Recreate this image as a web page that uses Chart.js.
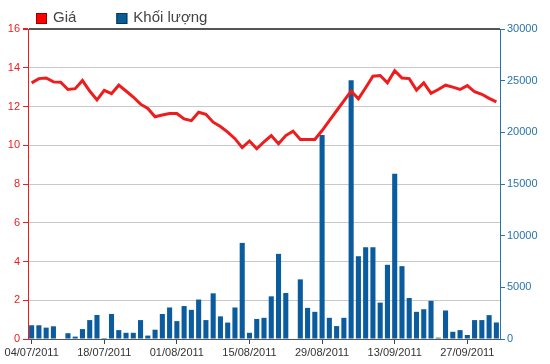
<!DOCTYPE html>
<html>
<head>
<meta charset="utf-8">
<script src="https://cdn.jsdelivr.net/npm/chart.js@4/dist/chart.umd.min.js"></script>
<style>
  html, body { margin: 0; padding: 0; background: #fff; }
  #wrap { width: 550px; height: 364px; }
</style>
</head>
<body>
<div id="wrap"><canvas id="chart"></canvas></div>
<script>
// trading days 04/07/2011 .. 03/10/2011 (02/09 holiday)
const dates = [
  '04/07/2011','05/07/2011','06/07/2011','07/07/2011','08/07/2011',
  '11/07/2011','12/07/2011','13/07/2011','14/07/2011','15/07/2011',
  '18/07/2011','19/07/2011','20/07/2011','21/07/2011','22/07/2011',
  '25/07/2011','26/07/2011','27/07/2011','28/07/2011','29/07/2011',
  '01/08/2011','02/08/2011','03/08/2011','04/08/2011','05/08/2011',
  '08/08/2011','09/08/2011','10/08/2011','11/08/2011','12/08/2011',
  '15/08/2011','16/08/2011','17/08/2011','18/08/2011','19/08/2011',
  '22/08/2011','23/08/2011','24/08/2011','25/08/2011','26/08/2011',
  '29/08/2011','30/08/2011','31/08/2011','01/09/2011','05/09/2011',
  '06/09/2011','07/09/2011','08/09/2011','09/09/2011','12/09/2011',
  '13/09/2011','14/09/2011','15/09/2011','16/09/2011','19/09/2011',
  '20/09/2011','21/09/2011','22/09/2011','23/09/2011','26/09/2011',
  '27/09/2011','28/09/2011','29/09/2011','30/09/2011','03/10/2011'
];

const price = [
  13.22, 13.44, 13.47, 13.27, 13.25, 12.88, 12.92, 13.34, 12.80, 12.34,
  12.83, 12.66, 13.10, 12.80, 12.49, 12.12, 11.90, 11.47, 11.56, 11.64,
  11.64, 11.36, 11.27, 11.70, 11.60, 11.19, 10.97, 10.68, 10.34, 9.88,
  10.22, 9.82, 10.17, 10.50, 10.08, 10.50, 10.73, 10.30, 10.30, 10.30,
  10.76, 11.27, 11.78, 12.29, 12.80, 12.40, 12.97, 13.56, 13.60, 13.22,
  13.85, 13.47, 13.44, 12.85, 13.22, 12.68, 12.88, 13.10, 13.00, 12.88,
  13.08, 12.76, 12.63, 12.42, 12.24
];

const volume = [
  1330, 1330, 1100, 1230, 0, 560, 230, 960, 1830, 2320,
  100, 2420, 860, 600, 600, 1830, 330, 900, 2420, 3050,
  1730, 3190, 2820, 3820, 1830, 4420, 2190, 1590, 3050, 9300,
  600, 1940, 2050, 4130, 8240, 4450, 0, 5770, 3010, 2630,
  19750, 2050, 1250, 2050, 25050, 8010, 8880, 8880, 3520, 7180,
  16000, 7050, 3970, 2630, 2880, 3690, 130, 2760, 700, 860,
  390, 1830, 1830, 2310, 1600
];

const priceTicks = { min: 0, max: 16, step: 2 };
const volumeTicks = { min: 0, max: 30000, step: 5000 };

const RED = '#ee1c1c';
const BLUE = '#0b5c9e';
const BLUE_TEXT = '#2a73a8';
const FONT = '"Liberation Sans", Arial, sans-serif';

// legend drawn above the plot, left aligned
const topLegend = {
  id: 'topLegend',
  afterDraw(chart) {
    const ctx = chart.ctx;
    ctx.save();
    ctx.font = '15px ' + FONT;
    ctx.textBaseline = 'middle';
    let x = 36;
    const y = 18;
    chart.data.datasets.forEach(ds => {
      ctx.fillStyle = ds.legendColor;
      ctx.fillRect(x, 13, 11, 11);
      ctx.strokeStyle = ds.legendBorder;
      ctx.lineWidth = 1;
      ctx.strokeRect(x + 0.5, 13.5, 10, 10);
      ctx.fillStyle = '#444';
      ctx.fillText(ds.label, x + 17, y);
      x += 17 + ctx.measureText(ds.label).width + 40;
    });
    ctx.restore();
  }
};

new Chart(document.getElementById('chart'), {
  type: 'bar',
  data: {
    labels: dates,
    datasets: [
      {
        type: 'line',
        label: 'Giá',
        data: price,
        yAxisID: 'y',
        borderColor: RED,
        borderWidth: 3,
        pointRadius: 0,
        tension: 0,
        order: 0,
        legendColor: '#ff0000',
        legendBorder: '#990000'
      },
      {
        type: 'bar',
        label: 'Khối lượng',
        data: volume,
        yAxisID: 'y1',
        backgroundColor: BLUE,
        barPercentage: 0.7,
        categoryPercentage: 1,
        order: 1,
        legendColor: '#0a5c94',
        legendBorder: '#06385c'
      }
    ]
  },
  options: {
    responsive: true,
    maintainAspectRatio: false,
    animation: false,
    layout: { padding: { top: 29 } },
    plugins: {
      legend: { display: false },
      tooltip: { enabled: false }
    },
    scales: {
      x: {
        type: 'category',
        offset: true,
        grid: {
          offset: false,
          drawOnChartArea: false,
          tickLength: 5,
          tickColor: '#444'
        },
        border: { color: '#555' },
        ticks: {
          autoSkip: false,
          maxRotation: 0,
          padding: 2,
          color: '#333',
          font: { family: FONT, size: 11 },
          callback: function (val, i) {
            return i % 10 === 0 ? this.getLabelForValue(val) : null;
          }
        },
        afterFit: s => { s.height = 25; }
      },
      y: {
        position: 'left',
        min: priceTicks.min,
        max: priceTicks.max,
        ticks: {
          stepSize: priceTicks.step,
          color: RED,
          padding: 3,
          font: { family: FONT, size: 11 }
        },
        grid: {
          color: ctx => ctx.tick && ctx.tick.value === priceTicks.max ? '#555' : '#c8c8c8',
          lineWidth: ctx => ctx.tick && ctx.tick.value === priceTicks.max ? 2 : 1,
          tickColor: RED,
          tickLength: 5
        },
        border: { color: RED, width: 1 },
        afterFit: s => { s.width = 28; }
      },
      y1: {
        position: 'right',
        min: volumeTicks.min,
        max: volumeTicks.max,
        ticks: {
          stepSize: volumeTicks.step,
          color: BLUE_TEXT,
          padding: 2,
          font: { family: FONT, size: 11 },
          callback: v => String(v)
        },
        grid: {
          drawOnChartArea: false,
          tickColor: BLUE_TEXT,
          tickLength: 5
        },
        border: { color: BLUE_TEXT, width: 1 },
        afterFit: s => { s.width = 50; }
      }
    }
  },
  plugins: [topLegend]
});
</script>
</body>
</html>
